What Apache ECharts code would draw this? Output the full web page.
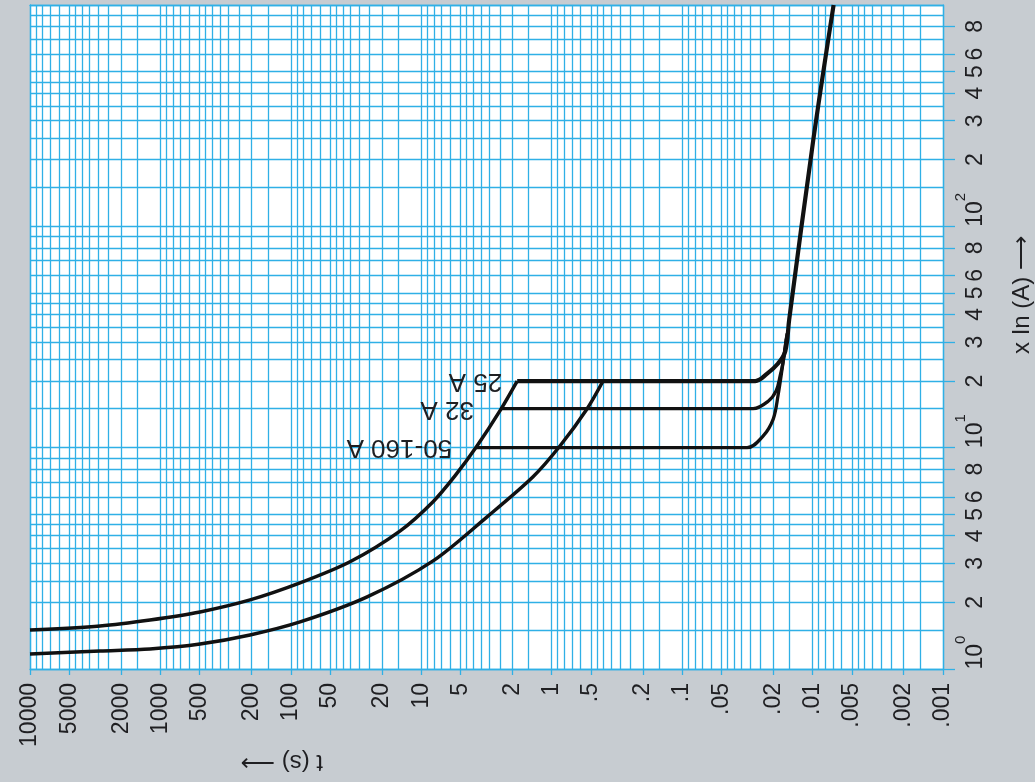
<!DOCTYPE html>
<html>
<head>
<meta charset="utf-8">
<script src="https://cdn.jsdelivr.net/npm/echarts@6/dist/echarts.min.js"></script>
<style>
html,body{margin:0;padding:0;background:#c7ccd1;}
#chart{width:1035px;height:782px;}
</style>
</head>
<body>
<div id="chart"></div>
<script>
// ---- tick values / labels ----
const timeTickValues = [10000,5000,2000,1000,500,200,100,50,20,10,5,2,1,0.5,0.2,0.1,0.05,0.02,0.01,0.005,0.002,0.001];
const timeTickLabels = ['10000','5000','2000','1000','500','200','100','50','20','10','5','2','1','.5','.2','.1','.05','.02','.01','.005','.002','.001'];
const currentTickValues = [1,2,3,4,5,6,8,10,20,30,40,50,60,80,100,200,300,400,500,600,800];
const currentTickLabels = ['10^0','2','3','4','5','6','8','10^1','2','3','4','5','6','8','10^2','2','3','4','5','6','8'];
const gridSteps = [1,1.5,2,2.5,3,3.5,4,4.5,5,6,7,8,9];
const timeDecades = [0.001,0.01,0.1,1,10,100,1000];
const currentDecades = [1,10,100];

// ---- curves: [time (s), current (x In)] ----
const thermalUpper = [[10000,1.5],[2904,1.565],[1202,1.666],[497,1.811],[205.6,2.052],[85,2.449],[35.2,3.05],[14.5,4.21],[8.12,5.7],[5.5,7.47],[3.73,10.2],[2.49,14.7],[1.84,20]];
const thermalLower = [[10000,1.17],[2904,1.206],[1202,1.232],[497,1.297],[205.6,1.425],[85,1.632],[26,2.118],[8.12,3.08],[3.13,4.87],[1.39,7.39],[0.862,10.2],[0.535,15],[0.404,20]];
const magnetic25 = [[1.84,20],[0.0275,20],[0.0223,21.6],[0.0184,24],[0.0162,27.2],[0.0151,38],[0.0099,243],[0.0069,1000]];
const magnetic32 = [[2.45,15],[0.0286,15],[0.0219,16.2],[0.019,18.1],[0.0177,21.2],[0.0168,24.5],[0.0157,32.8]];
const magnetic50 = [[3.8,10],[0.0318,10],[0.0239,11.3],[0.02,13.5],[0.0184,17.2],[0.0171,22.8],[0.0159,31.1]];
const curveLabels = ['25 A','32 A','50-160 A'];

const timeGridValues = [];
timeDecades.forEach(d => gridSteps.forEach(s => timeGridValues.push(+(d*s).toPrecision(6))));
timeGridValues.push(10000);
const currentGridValues = [];
currentDecades.forEach(d => gridSteps.forEach(s => currentGridValues.push(+(d*s).toPrecision(6))));
currentGridValues.push(1000);

const FONT = '"Liberation Sans", Arial, sans-serif';
const TXT = '#1f1f22';
const GRID = '#2fb0e6';

function lookup(vals, labels, v) {
  for (let i = 0; i < vals.length; i++) {
    if (Math.abs(vals[i] - v) / vals[i] < 1e-6) return labels[i];
  }
  return '';
}

function lineSeries(data, width, smooth, labelText, labelDist) {
  return {
    type: 'line',
    xAxisIndex: 0, yAxisIndex: 0,
    data: data.map((p, i) => {
      if (i === 0 && labelText) {
        return {
          value: p,
          label: {
            show: true, formatter: labelText, position: 'left', distance: labelDist,
            rotate: 180, align: 'left', verticalAlign: 'middle',
            fontSize: 26, fontFamily: FONT, color: TXT
          }
        };
      }
      return p;
    }),
    smooth: smooth,
    showSymbol: true, symbol: 'circle', symbolSize: 0,
    lineStyle: { color: '#111', width: width },
    itemStyle: { color: '#111' },
    label: { show: false },
    silent: true,
    z: 5
  };
}

const chart = echarts.init(document.getElementById('chart'));
chart.setOption({
  animation: false,
  backgroundColor: '#c7ccd1',
  grid: { left: 30, right: 92, top: 5, bottom: 113, show: true, backgroundColor: '#ffffff', borderWidth: 0 },
  xAxis: [
    {
      type: 'log', position: 'bottom', inverse: true, min: 0.001, max: 10000,
      axisLine: { show: true, lineStyle: { color: GRID, width: 1.3 } },
      axisTick: { show: true, length: 6, lineStyle: { color: GRID, width: 1.3 }, customValues: timeTickValues },
      axisLabel: {
        show: true, customValues: timeTickValues, rotate: 90, margin: 14,
        fontSize: 23, fontFamily: FONT, color: TXT,
        formatter: v => lookup(timeTickValues, timeTickLabels, v)
      },
      splitLine: { show: false }
    },
    {
      type: 'log', position: 'top', inverse: true, min: 0.001, max: 10000,
      axisLine: { show: true, lineStyle: { color: GRID, width: 1.3 } },
      axisTick: { show: false, customValues: timeGridValues },
      axisLabel: { show: false },
      splitLine: { show: true, lineStyle: { color: GRID, width: 1.3 } }
    }
  ],
  yAxis: [
    {
      type: 'log', position: 'right', min: 1, max: 1000,
      axisLine: { show: true, lineStyle: { color: GRID, width: 1.3 } },
      axisTick: { show: true, length: 12, lineStyle: { color: GRID, width: 1.3 }, customValues: currentTickValues },
      axisLabel: {
        show: true, customValues: currentTickValues, rotate: 90, margin: 10,
        fontSize: 23, fontFamily: FONT, color: TXT,
        formatter: v => {
          const s = lookup(currentTickValues, currentTickLabels, v);
          if (s.indexOf('^') >= 0) {
            const parts = s.split('^');
            return '{gap|}{d|' + parts[0] + '}{s|' + parts[1] + '}';
          }
          return '{n|' + s + '}';
        },
        rich: {
          n: { fontSize: 23, fontFamily: FONT, color: TXT, padding: [11, 0, 0, 0], verticalAlign: 'bottom' },
          d: { fontSize: 23, fontFamily: FONT, color: TXT, padding: [11, 0, 0, 0], verticalAlign: 'bottom' },
          s: { fontSize: 15, fontFamily: FONT, color: TXT, verticalAlign: 'top' },
          gap: { width: 33 }
        }
      },
      splitLine: { show: false }
    },
    {
      type: 'log', position: 'left', min: 1, max: 1000,
      axisLine: { show: true, lineStyle: { color: GRID, width: 1.3 } },
      axisTick: { show: false, customValues: currentGridValues },
      axisLabel: { show: false },
      splitLine: { show: true, lineStyle: { color: GRID, width: 1.3 } }
    }
  ],
  graphic: [
    {
      type: 'text', x: 282, y: 762, rotation: Math.PI, silent: true,
      style: { text: 't (s) \u27F6', font: '24px ' + FONT, fill: TXT, textAlign: 'center', textVerticalAlign: 'middle' }
    },
    {
      type: 'text', x: 1022, y: 295, rotation: Math.PI / 2, silent: true,
      style: { text: 'x In (A) \u27F6', font: '24px ' + FONT, fill: TXT, textAlign: 'center', textVerticalAlign: 'middle' }
    }
  ],
  series: [
    lineSeries(thermalUpper, 3.5, 0.3),
    lineSeries(thermalLower, 3.5, 0.3),
    lineSeries(magnetic25, 4.2, 0.35, curveLabels[0], 15),
    lineSeries(magnetic32, 3.3, 0.35, curveLabels[1], 27),
    lineSeries(magnetic50, 3.3, 0.35, curveLabels[2], 24)
  ]
});
</script>
</body>
</html>
